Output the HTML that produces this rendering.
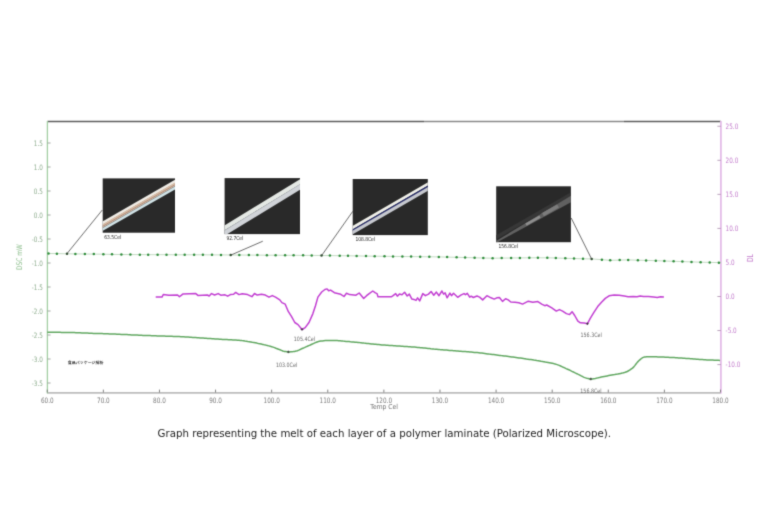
<!DOCTYPE html><html><head><meta charset="utf-8"><title>DSC chart</title><style>html,body{margin:0;padding:0;background:#fff;overflow:hidden;width:768px;height:512px;}svg{display:block;}</style></head><body>
<svg width="768" height="512" viewBox="0 0 768 512">
<defs><filter id="bl" x="0" y="0" width="768" height="512" filterUnits="userSpaceOnUse" color-interpolation-filters="sRGB"><feConvolveMatrix order="3" kernelMatrix="0.0192 0.1001 0.0192 0.1001 0.5228 0.1001 0.0192 0.1001 0.0192" divisor="1" edgeMode="duplicate"/></filter></defs>
<g filter="url(#bl)">
<rect width="768" height="512" fill="#fff"/>
<line x1="47.4" y1="121.5" x2="424" y2="121.5" stroke="#5e5e5e" stroke-width="1.3"/>
<line x1="424" y1="121.5" x2="624" y2="121.5" stroke="#8a8a8a" stroke-width="1.3"/>
<line x1="624" y1="121.5" x2="720.9" y2="121.5" stroke="#5e5e5e" stroke-width="1.3"/>
<line x1="47.25" y1="392.8" x2="720.9" y2="392.8" stroke="#bdbdbd" stroke-width="1.8"/>
<line x1="47.4" y1="121" x2="47.4" y2="393.5" stroke="#a3cfa3" stroke-width="1.3"/>
<line x1="720.9" y1="121" x2="720.9" y2="393.5" stroke="#e4bce8" stroke-width="1.8"/>
<line x1="47.4" y1="143.00" x2="50.6" y2="143.00" stroke="#9a9f9a" stroke-width="0.9"/>
<text transform="translate(42.9,145.50) scale(1,1.3)" text-anchor="end" font-family="'DejaVu Sans', 'Liberation Sans', sans-serif" font-size="5.7" fill="#8fae8f">1.5</text>
<line x1="47.4" y1="167.00" x2="50.6" y2="167.00" stroke="#9a9f9a" stroke-width="0.9"/>
<text transform="translate(42.9,169.50) scale(1,1.3)" text-anchor="end" font-family="'DejaVu Sans', 'Liberation Sans', sans-serif" font-size="5.7" fill="#8fae8f">1.0</text>
<line x1="47.4" y1="191.00" x2="50.6" y2="191.00" stroke="#9a9f9a" stroke-width="0.9"/>
<text transform="translate(42.9,193.50) scale(1,1.3)" text-anchor="end" font-family="'DejaVu Sans', 'Liberation Sans', sans-serif" font-size="5.7" fill="#8fae8f">0.5</text>
<line x1="47.4" y1="215.00" x2="50.6" y2="215.00" stroke="#9a9f9a" stroke-width="0.9"/>
<text transform="translate(42.9,217.50) scale(1,1.3)" text-anchor="end" font-family="'DejaVu Sans', 'Liberation Sans', sans-serif" font-size="5.7" fill="#8fae8f">0.0</text>
<line x1="47.4" y1="239.00" x2="50.6" y2="239.00" stroke="#9a9f9a" stroke-width="0.9"/>
<text transform="translate(42.9,241.50) scale(1,1.3)" text-anchor="end" font-family="'DejaVu Sans', 'Liberation Sans', sans-serif" font-size="5.7" fill="#8fae8f">-0.5</text>
<line x1="47.4" y1="263.00" x2="50.6" y2="263.00" stroke="#9a9f9a" stroke-width="0.9"/>
<text transform="translate(42.9,265.50) scale(1,1.3)" text-anchor="end" font-family="'DejaVu Sans', 'Liberation Sans', sans-serif" font-size="5.7" fill="#8fae8f">-1.0</text>
<line x1="47.4" y1="287.00" x2="50.6" y2="287.00" stroke="#9a9f9a" stroke-width="0.9"/>
<text transform="translate(42.9,289.50) scale(1,1.3)" text-anchor="end" font-family="'DejaVu Sans', 'Liberation Sans', sans-serif" font-size="5.7" fill="#8fae8f">-1.5</text>
<line x1="47.4" y1="311.00" x2="50.6" y2="311.00" stroke="#9a9f9a" stroke-width="0.9"/>
<text transform="translate(42.9,313.50) scale(1,1.3)" text-anchor="end" font-family="'DejaVu Sans', 'Liberation Sans', sans-serif" font-size="5.7" fill="#8fae8f">-2.0</text>
<line x1="47.4" y1="335.00" x2="50.6" y2="335.00" stroke="#9a9f9a" stroke-width="0.9"/>
<text transform="translate(42.9,337.50) scale(1,1.3)" text-anchor="end" font-family="'DejaVu Sans', 'Liberation Sans', sans-serif" font-size="5.7" fill="#8fae8f">-2.5</text>
<line x1="47.4" y1="359.00" x2="50.6" y2="359.00" stroke="#9a9f9a" stroke-width="0.9"/>
<text transform="translate(42.9,361.50) scale(1,1.3)" text-anchor="end" font-family="'DejaVu Sans', 'Liberation Sans', sans-serif" font-size="5.7" fill="#8fae8f">-3.0</text>
<line x1="47.4" y1="383.00" x2="50.6" y2="383.00" stroke="#9a9f9a" stroke-width="0.9"/>
<text transform="translate(42.9,385.50) scale(1,1.3)" text-anchor="end" font-family="'DejaVu Sans', 'Liberation Sans', sans-serif" font-size="5.7" fill="#8fae8f">-3.5</text>
<line x1="717.4" y1="126.25" x2="720.9" y2="126.25" stroke="#b39ab6" stroke-width="0.9"/>
<text transform="translate(725.6,128.75) scale(1,1.3)" font-family="'DejaVu Sans', 'Liberation Sans', sans-serif" font-size="5.7" fill="#c37ccc">25.0</text>
<line x1="717.4" y1="160.30" x2="720.9" y2="160.30" stroke="#b39ab6" stroke-width="0.9"/>
<text transform="translate(725.6,162.80) scale(1,1.3)" font-family="'DejaVu Sans', 'Liberation Sans', sans-serif" font-size="5.7" fill="#c37ccc">20.0</text>
<line x1="717.4" y1="194.35" x2="720.9" y2="194.35" stroke="#b39ab6" stroke-width="0.9"/>
<text transform="translate(725.6,196.85) scale(1,1.3)" font-family="'DejaVu Sans', 'Liberation Sans', sans-serif" font-size="5.7" fill="#c37ccc">15.0</text>
<line x1="717.4" y1="228.40" x2="720.9" y2="228.40" stroke="#b39ab6" stroke-width="0.9"/>
<text transform="translate(725.6,230.90) scale(1,1.3)" font-family="'DejaVu Sans', 'Liberation Sans', sans-serif" font-size="5.7" fill="#c37ccc">10.0</text>
<line x1="717.4" y1="262.45" x2="720.9" y2="262.45" stroke="#b39ab6" stroke-width="0.9"/>
<text transform="translate(725.6,264.95) scale(1,1.3)" font-family="'DejaVu Sans', 'Liberation Sans', sans-serif" font-size="5.7" fill="#c37ccc">5.0</text>
<line x1="717.4" y1="296.50" x2="720.9" y2="296.50" stroke="#b39ab6" stroke-width="0.9"/>
<text transform="translate(725.6,299.00) scale(1,1.3)" font-family="'DejaVu Sans', 'Liberation Sans', sans-serif" font-size="5.7" fill="#c37ccc">0.0</text>
<line x1="717.4" y1="330.55" x2="720.9" y2="330.55" stroke="#b39ab6" stroke-width="0.9"/>
<text transform="translate(725.6,333.05) scale(1,1.3)" font-family="'DejaVu Sans', 'Liberation Sans', sans-serif" font-size="5.7" fill="#c37ccc">-5.0</text>
<line x1="717.4" y1="364.60" x2="720.9" y2="364.60" stroke="#b39ab6" stroke-width="0.9"/>
<text transform="translate(725.6,367.10) scale(1,1.3)" font-family="'DejaVu Sans', 'Liberation Sans', sans-serif" font-size="5.7" fill="#c37ccc">-10.0</text>
<line x1="47.25" y1="389.6" x2="47.25" y2="392.5" stroke="#777" stroke-width="0.9"/>
<text transform="translate(47.25,402.7) scale(1,1.3)" text-anchor="middle" font-family="'DejaVu Sans', 'Liberation Sans', sans-serif" font-size="5.7" fill="#7a7a7a">60.0</text>
<line x1="103.35" y1="389.6" x2="103.35" y2="392.5" stroke="#777" stroke-width="0.9"/>
<text transform="translate(103.35,402.7) scale(1,1.3)" text-anchor="middle" font-family="'DejaVu Sans', 'Liberation Sans', sans-serif" font-size="5.7" fill="#7a7a7a">70.0</text>
<line x1="159.46" y1="389.6" x2="159.46" y2="392.5" stroke="#777" stroke-width="0.9"/>
<text transform="translate(159.46,402.7) scale(1,1.3)" text-anchor="middle" font-family="'DejaVu Sans', 'Liberation Sans', sans-serif" font-size="5.7" fill="#7a7a7a">80.0</text>
<line x1="215.56" y1="389.6" x2="215.56" y2="392.5" stroke="#777" stroke-width="0.9"/>
<text transform="translate(215.56,402.7) scale(1,1.3)" text-anchor="middle" font-family="'DejaVu Sans', 'Liberation Sans', sans-serif" font-size="5.7" fill="#7a7a7a">90.0</text>
<line x1="271.67" y1="389.6" x2="271.67" y2="392.5" stroke="#777" stroke-width="0.9"/>
<text transform="translate(271.67,402.7) scale(1,1.3)" text-anchor="middle" font-family="'DejaVu Sans', 'Liberation Sans', sans-serif" font-size="5.7" fill="#7a7a7a">100.0</text>
<line x1="327.77" y1="389.6" x2="327.77" y2="392.5" stroke="#777" stroke-width="0.9"/>
<text transform="translate(327.77,402.7) scale(1,1.3)" text-anchor="middle" font-family="'DejaVu Sans', 'Liberation Sans', sans-serif" font-size="5.7" fill="#7a7a7a">110.0</text>
<line x1="383.87" y1="389.6" x2="383.87" y2="392.5" stroke="#777" stroke-width="0.9"/>
<text transform="translate(383.87,402.7) scale(1,1.3)" text-anchor="middle" font-family="'DejaVu Sans', 'Liberation Sans', sans-serif" font-size="5.7" fill="#7a7a7a">120.0</text>
<line x1="439.98" y1="389.6" x2="439.98" y2="392.5" stroke="#777" stroke-width="0.9"/>
<text transform="translate(439.98,402.7) scale(1,1.3)" text-anchor="middle" font-family="'DejaVu Sans', 'Liberation Sans', sans-serif" font-size="5.7" fill="#7a7a7a">130.0</text>
<line x1="496.08" y1="389.6" x2="496.08" y2="392.5" stroke="#777" stroke-width="0.9"/>
<text transform="translate(496.08,402.7) scale(1,1.3)" text-anchor="middle" font-family="'DejaVu Sans', 'Liberation Sans', sans-serif" font-size="5.7" fill="#7a7a7a">140.0</text>
<line x1="552.19" y1="389.6" x2="552.19" y2="392.5" stroke="#777" stroke-width="0.9"/>
<text transform="translate(552.19,402.7) scale(1,1.3)" text-anchor="middle" font-family="'DejaVu Sans', 'Liberation Sans', sans-serif" font-size="5.7" fill="#7a7a7a">150.0</text>
<line x1="608.29" y1="389.6" x2="608.29" y2="392.5" stroke="#777" stroke-width="0.9"/>
<text transform="translate(608.29,402.7) scale(1,1.3)" text-anchor="middle" font-family="'DejaVu Sans', 'Liberation Sans', sans-serif" font-size="5.7" fill="#7a7a7a">160.0</text>
<line x1="664.39" y1="389.6" x2="664.39" y2="392.5" stroke="#777" stroke-width="0.9"/>
<text transform="translate(664.39,402.7) scale(1,1.3)" text-anchor="middle" font-family="'DejaVu Sans', 'Liberation Sans', sans-serif" font-size="5.7" fill="#7a7a7a">170.0</text>
<line x1="720.50" y1="389.6" x2="720.50" y2="392.5" stroke="#777" stroke-width="0.9"/>
<text transform="translate(720.50,402.7) scale(1,1.3)" text-anchor="middle" font-family="'DejaVu Sans', 'Liberation Sans', sans-serif" font-size="5.7" fill="#7a7a7a">180.0</text>
<text transform="translate(384.1,409.0) scale(1.06,1.2)" text-anchor="middle" font-family="'DejaVu Sans', 'Liberation Sans', sans-serif" font-size="5.7" fill="#6e6e6e">Temp Cel</text>
<text transform="translate(21.6,257.2) rotate(-90) scale(1,1.3)" text-anchor="middle" font-family="'DejaVu Sans', 'Liberation Sans', sans-serif" font-size="5.9" fill="#8fbf8f">DSC mW</text>
<text transform="translate(752.6,258.1) rotate(-90) scale(1,1.4)" text-anchor="middle" font-family="'DejaVu Sans', 'Liberation Sans', sans-serif" font-size="6" fill="#c37ccc">DL</text>
<text x="67.8" y="363.9" font-family="'Liberation Sans', 'Noto Sans CJK JP', sans-serif" font-size="3.98" font-weight="bold" fill="#444">食品パッケージ解析</text>
<polyline points="47.4,253.5 48.5,253.5 56.9,253.6 67.0,253.8 75.4,253.9 84.9,254.0 93.8,254.1 103.4,254.2 112.0,254.4 121.4,254.5 130.4,254.6 139.8,254.6 148.2,254.7 157.6,254.7 166.5,254.7 175.8,254.8 184.7,254.8 194.1,254.8 202.9,254.8 212.0,254.9 221.0,254.9 230.7,255.0 239.3,255.0 248.9,255.1 257.4,255.1 266.9,255.2 275.6,255.2 285.1,255.3 293.6,255.3 303.1,255.4 311.7,255.4 321.5,255.5 329.9,255.6 339.7,255.7 348.0,255.8 356.6,255.9 366.0,256.1 374.7,256.2 384.5,256.3 393.0,256.4 402.4,256.5 411.1,256.6 420.2,256.7 429.3,256.8 438.8,256.9 447.1,257.1 456.6,257.3 465.1,257.5 474.6,257.8 483.3,258.0 492.6,258.2 501.7,258.1 511.1,258.0 519.9,257.9 529.3,257.8 537.9,257.8 547.3,257.8 555.8,258.0 565.3,258.3 574.0,258.5 583.0,258.8 591.7,258.9 601.9,259.7 610.2,260.3 619.7,260.1 628.2,259.9 637.9,260.2 646.1,260.4 655.8,260.7 664.4,261.0 673.6,261.3 682.4,261.6 691.5,261.9 700.6,262.2 709.7,262.4 718.9,262.6 720.9,262.7" fill="none" stroke="#c4dcc4" stroke-width="1"/>
<circle cx="48.5" cy="253.52" r="1.25" fill="#2e8c3a"/>
<circle cx="56.9" cy="253.63" r="1.25" fill="#2e8c3a"/>
<circle cx="67" cy="253.77" r="1.25" fill="#2f4f2f"/>
<circle cx="75.4" cy="253.88" r="1.25" fill="#2e8c3a"/>
<circle cx="84.9" cy="254.00" r="1.25" fill="#2e8c3a"/>
<circle cx="93.8" cy="254.12" r="1.25" fill="#2e8c3a"/>
<circle cx="103.4" cy="254.25" r="1.25" fill="#2e8c3a"/>
<circle cx="112" cy="254.36" r="1.25" fill="#2e8c3a"/>
<circle cx="121.4" cy="254.49" r="1.25" fill="#2e8c3a"/>
<circle cx="130.4" cy="254.60" r="1.25" fill="#2e8c3a"/>
<circle cx="139.8" cy="254.63" r="1.25" fill="#2e8c3a"/>
<circle cx="148.2" cy="254.66" r="1.25" fill="#2e8c3a"/>
<circle cx="157.6" cy="254.69" r="1.25" fill="#2e8c3a"/>
<circle cx="166.5" cy="254.72" r="1.25" fill="#2e8c3a"/>
<circle cx="175.8" cy="254.75" r="1.25" fill="#2e8c3a"/>
<circle cx="184.7" cy="254.78" r="1.25" fill="#2e8c3a"/>
<circle cx="194.1" cy="254.81" r="1.25" fill="#2e8c3a"/>
<circle cx="202.9" cy="254.84" r="1.25" fill="#2e8c3a"/>
<circle cx="212" cy="254.87" r="1.25" fill="#2e8c3a"/>
<circle cx="221" cy="254.91" r="1.25" fill="#2e8c3a"/>
<circle cx="230.7" cy="254.96" r="1.25" fill="#2f4f2f"/>
<circle cx="239.3" cy="255.00" r="1.25" fill="#2e8c3a"/>
<circle cx="248.9" cy="255.06" r="1.25" fill="#2e8c3a"/>
<circle cx="257.4" cy="255.10" r="1.25" fill="#2e8c3a"/>
<circle cx="266.9" cy="255.15" r="1.25" fill="#2e8c3a"/>
<circle cx="275.6" cy="255.20" r="1.25" fill="#2e8c3a"/>
<circle cx="285.1" cy="255.25" r="1.25" fill="#2e8c3a"/>
<circle cx="293.6" cy="255.30" r="1.25" fill="#2e8c3a"/>
<circle cx="303.1" cy="255.35" r="1.25" fill="#2e8c3a"/>
<circle cx="311.7" cy="255.40" r="1.25" fill="#2e8c3a"/>
<circle cx="321.5" cy="255.52" r="1.25" fill="#2f4f2f"/>
<circle cx="329.9" cy="255.62" r="1.25" fill="#2e8c3a"/>
<circle cx="339.7" cy="255.74" r="1.25" fill="#2e8c3a"/>
<circle cx="348" cy="255.84" r="1.25" fill="#2e8c3a"/>
<circle cx="356.6" cy="255.95" r="1.25" fill="#2e8c3a"/>
<circle cx="366" cy="256.06" r="1.25" fill="#2e8c3a"/>
<circle cx="374.7" cy="256.17" r="1.25" fill="#2e8c3a"/>
<circle cx="384.5" cy="256.29" r="1.25" fill="#2e8c3a"/>
<circle cx="393" cy="256.39" r="1.25" fill="#2e8c3a"/>
<circle cx="402.4" cy="256.50" r="1.25" fill="#2e8c3a"/>
<circle cx="411.1" cy="256.60" r="1.25" fill="#2e8c3a"/>
<circle cx="420.2" cy="256.69" r="1.25" fill="#2e8c3a"/>
<circle cx="429.3" cy="256.79" r="1.25" fill="#2e8c3a"/>
<circle cx="438.8" cy="256.89" r="1.25" fill="#2e8c3a"/>
<circle cx="447.1" cy="257.08" r="1.25" fill="#2e8c3a"/>
<circle cx="456.6" cy="257.31" r="1.25" fill="#2e8c3a"/>
<circle cx="465.1" cy="257.53" r="1.25" fill="#2e8c3a"/>
<circle cx="474.6" cy="257.76" r="1.25" fill="#2e8c3a"/>
<circle cx="483.3" cy="257.98" r="1.25" fill="#2e8c3a"/>
<circle cx="492.6" cy="258.19" r="1.25" fill="#2e8c3a"/>
<circle cx="501.7" cy="258.10" r="1.25" fill="#2e8c3a"/>
<circle cx="511.1" cy="258.00" r="1.25" fill="#2e8c3a"/>
<circle cx="519.9" cy="257.91" r="1.25" fill="#2e8c3a"/>
<circle cx="529.3" cy="257.81" r="1.25" fill="#2e8c3a"/>
<circle cx="537.9" cy="257.80" r="1.25" fill="#2e8c3a"/>
<circle cx="547.3" cy="257.80" r="1.25" fill="#2e8c3a"/>
<circle cx="555.8" cy="258.02" r="1.25" fill="#2e8c3a"/>
<circle cx="565.3" cy="258.29" r="1.25" fill="#2e8c3a"/>
<circle cx="574" cy="258.54" r="1.25" fill="#2e8c3a"/>
<circle cx="583" cy="258.80" r="1.25" fill="#2e8c3a"/>
<circle cx="591.7" cy="258.90" r="1.25" fill="#2f4f2f"/>
<circle cx="601.9" cy="259.67" r="1.25" fill="#2e8c3a"/>
<circle cx="610.2" cy="260.30" r="1.25" fill="#2e8c3a"/>
<circle cx="619.7" cy="260.08" r="1.25" fill="#2e8c3a"/>
<circle cx="628.2" cy="259.91" r="1.25" fill="#2e8c3a"/>
<circle cx="637.9" cy="260.17" r="1.25" fill="#2e8c3a"/>
<circle cx="646.1" cy="260.40" r="1.25" fill="#2e8c3a"/>
<circle cx="655.8" cy="260.71" r="1.25" fill="#2e8c3a"/>
<circle cx="664.4" cy="260.99" r="1.25" fill="#2e8c3a"/>
<circle cx="673.6" cy="261.29" r="1.25" fill="#2e8c3a"/>
<circle cx="682.4" cy="261.59" r="1.25" fill="#2e8c3a"/>
<circle cx="691.5" cy="261.91" r="1.25" fill="#2e8c3a"/>
<circle cx="700.6" cy="262.21" r="1.25" fill="#2e8c3a"/>
<circle cx="709.7" cy="262.43" r="1.25" fill="#2e8c3a"/>
<circle cx="718.9" cy="262.65" r="1.25" fill="#2e8c3a"/>
<polyline points="47.3,332.2 48.7,332.2 50.1,332.2 51.6,332.3 53.0,332.3 54.4,332.3 55.8,332.3 57.2,332.3 58.6,332.3 60.1,332.3 61.5,332.4 62.9,332.4 64.3,332.4 65.7,332.4 67.2,332.4 68.6,332.5 70.0,332.5 71.5,332.5 72.9,332.6 74.4,332.6 75.8,332.7 77.3,332.7 78.8,332.8 80.2,332.8 81.7,332.9 83.1,332.9 84.6,333.0 86.1,333.1 87.5,333.1 89.0,333.2 90.4,333.2 91.9,333.3 93.4,333.4 94.8,333.4 96.3,333.4 97.8,333.5 99.2,333.5 100.7,333.6 102.1,333.6 103.6,333.7 105.1,333.7 106.5,333.8 108.0,333.8 109.5,333.9 110.9,333.9 112.4,334.0 113.8,334.0 115.3,334.1 116.8,334.2 118.2,334.2 119.7,334.3 121.2,334.4 122.6,334.4 124.1,334.5 125.6,334.6 127.0,334.6 128.5,334.7 130.0,334.8 131.4,334.9 132.9,334.9 134.4,335.0 135.8,335.1 137.3,335.1 138.8,335.2 140.2,335.3 141.6,335.3 143.0,335.4 144.4,335.4 145.8,335.5 147.2,335.5 148.7,335.6 150.1,335.6 151.5,335.7 152.9,335.7 154.3,335.8 155.8,335.8 157.2,335.9 158.6,335.9 160.0,335.9 161.5,336.0 163.0,336.1 164.5,336.1 165.9,336.2 167.4,336.2 168.9,336.2 170.4,336.3 171.9,336.3 173.4,336.4 174.9,336.5 176.3,336.5 177.8,336.6 179.3,336.6 180.8,336.7 182.3,336.8 183.8,336.8 185.3,336.9 186.8,337.0 188.3,337.1 189.8,337.2 191.2,337.3 192.7,337.4 194.2,337.5 195.7,337.6 197.2,337.7 198.7,337.8 200.2,337.9 201.7,338.0 203.2,338.1 204.7,338.2 206.2,338.3 207.6,338.4 209.1,338.5 210.6,338.6 212.1,338.7 213.6,338.8 215.1,338.9 216.6,339.0 218.0,339.1 219.5,339.2 221.0,339.3 222.5,339.4 224.0,339.5 225.5,339.6 227.0,339.6 228.5,339.7 230.0,339.8 231.4,339.8 232.9,339.9 234.4,340.0 235.9,340.1 237.4,340.2 238.9,340.3 240.4,340.4 241.9,340.6 243.4,340.7 244.9,341.0 246.3,341.2 247.8,341.5 249.3,341.7 250.8,342.0 252.3,342.3 253.8,342.5 255.3,342.8 256.8,343.1 258.3,343.5 259.8,343.8 261.2,344.1 262.7,344.4 264.2,344.8 265.7,345.1 267.2,345.5 268.7,345.9 270.2,346.3 271.7,346.7 273.1,347.1 274.5,347.6 275.9,348.2 277.2,348.7 278.6,349.3 280.0,349.8 281.4,350.4 282.8,351.0 284.2,351.4 285.6,351.6 286.9,351.8 288.3,351.9 289.6,351.9 290.8,351.8 292.1,351.7 293.3,351.6 294.6,351.4 296.0,351.1 297.4,350.7 298.8,350.1 300.1,349.5 301.5,348.8 302.9,348.2 304.4,347.6 305.9,346.9 307.3,346.3 308.8,345.6 310.3,345.0 311.8,344.3 313.3,343.6 314.8,342.9 316.3,342.3 317.8,341.7 319.3,341.3 320.8,341.0 322.3,340.9 323.8,340.7 325.3,340.6 326.8,340.5 328.3,340.5 329.8,340.4 331.2,340.4 332.7,340.4 334.2,340.5 335.7,340.5 337.2,340.6 338.7,340.7 340.1,340.8 341.6,340.9 343.1,341.1 344.6,341.2 346.1,341.4 347.6,341.5 349.0,341.6 350.5,341.8 352.0,341.9 353.5,342.0 355.0,342.2 356.5,342.3 358.0,342.4 359.5,342.6 360.9,342.7 362.4,342.9 363.9,343.1 365.4,343.2 366.9,343.4 368.4,343.5 369.9,343.7 371.4,343.9 372.9,344.0 374.4,344.2 375.8,344.3 377.3,344.5 378.8,344.6 380.3,344.7 381.8,344.9 383.3,345.0 384.8,345.1 386.3,345.2 387.8,345.3 389.3,345.4 390.8,345.5 392.2,345.6 393.7,345.7 395.2,345.8 396.7,345.9 398.2,346.0 399.7,346.1 401.2,346.2 402.7,346.3 404.2,346.4 405.7,346.5 407.1,346.6 408.6,346.7 410.1,346.8 411.6,346.9 413.1,347.0 414.6,347.1 416.1,347.2 417.6,347.4 419.1,347.5 420.5,347.7 422.0,347.8 423.5,348.0 425.0,348.1 426.5,348.3 428.0,348.5 429.5,348.6 430.9,348.8 432.4,348.9 433.9,349.1 435.4,349.2 436.8,349.3 438.2,349.4 439.6,349.6 441.0,349.7 442.4,349.8 443.8,349.9 445.2,350.0 446.6,350.1 448.0,350.2 449.4,350.4 450.8,350.5 452.2,350.6 453.6,350.7 455.0,350.8 456.5,350.9 458.0,351.0 459.5,351.2 460.9,351.3 462.4,351.4 463.9,351.5 465.4,351.6 466.9,351.7 468.4,351.8 469.9,352.0 471.3,352.1 472.8,352.2 474.3,352.4 475.8,352.5 477.3,352.6 478.8,352.8 480.3,353.0 481.8,353.1 483.3,353.3 484.8,353.5 486.2,353.7 487.7,353.9 489.2,354.1 490.7,354.2 492.2,354.4 493.7,354.6 495.2,354.8 496.7,355.0 498.2,355.2 499.7,355.4 501.2,355.6 502.6,355.7 504.1,355.9 505.6,356.1 507.1,356.3 508.6,356.5 510.1,356.7 511.6,356.9 513.0,357.1 514.5,357.3 516.0,357.5 517.5,357.7 519.0,357.9 520.5,358.1 522.0,358.3 523.4,358.5 524.9,358.7 526.4,359.0 527.9,359.2 529.4,359.4 530.9,359.6 532.4,359.8 533.8,360.1 535.3,360.3 536.8,360.6 538.3,360.8 539.7,361.0 541.1,361.3 542.5,361.5 543.9,361.7 545.3,362.0 546.6,362.2 548.0,362.4 549.4,362.7 550.8,363.0 552.2,363.3 553.6,363.6 555.0,364.0 556.4,364.4 557.8,364.9 559.2,365.4 560.6,366.0 561.9,366.6 563.3,367.3 564.7,367.9 566.1,368.6 567.5,369.2 568.9,369.8 570.2,370.4 571.5,371.1 572.9,371.8 574.2,372.4 575.6,373.1 576.9,373.7 578.3,374.4 579.8,375.1 581.2,375.9 582.7,376.7 584.1,377.4 585.6,377.9 586.9,378.3 588.2,378.6 589.5,378.9 590.8,379.0 592.3,378.9 593.8,378.7 595.3,378.5 596.8,378.1 598.3,377.8 599.8,377.4 601.2,377.1 602.7,376.8 604.2,376.5 605.7,376.2 607.2,375.9 608.7,375.6 610.2,375.3 611.7,375.0 613.2,374.7 614.7,374.5 616.2,374.2 617.7,374.0 619.2,373.7 620.7,373.4 622.2,373.1 623.7,372.7 625.2,372.3 626.7,371.8 628.1,371.0 629.6,370.2 631.0,369.2 632.5,368.1 633.8,366.9 635.0,365.4 636.2,363.7 637.5,362.1 638.8,360.8 640.1,359.6 641.4,358.5 642.7,357.6 644.0,357.1 645.3,356.9 646.6,356.8 647.9,356.7 649.2,356.7 650.7,356.7 652.1,356.7 653.6,356.8 655.0,356.8 656.5,356.8 657.9,356.9 659.4,356.9 660.8,357.0 662.3,357.0 663.8,357.1 665.2,357.2 666.7,357.2 668.2,357.3 669.7,357.4 671.2,357.5 672.7,357.5 674.2,357.6 675.7,357.7 677.2,357.8 678.6,357.9 680.1,358.0 681.6,358.1 683.1,358.2 684.6,358.3 686.1,358.4 687.6,358.5 689.1,358.6 690.5,358.7 692.0,358.8 693.5,359.0 695.0,359.1 696.5,359.2 698.0,359.3 699.5,359.4 700.9,359.5 702.4,359.6 703.9,359.7 705.4,359.8 706.9,359.9 708.3,359.9 709.8,360.0 711.2,360.1 712.7,360.1 714.2,360.2 715.6,360.2 717.1,360.3 718.5,360.3 720.0,360.4" fill="none" stroke="#62a862" stroke-width="1.5" stroke-linejoin="round"/>
<polyline points="155.7,297.1 162.0,297.1 163.3,294.5 168.8,295.2 177.6,295.0 179.4,296.7 181.2,295.4 183.1,293.9 195.8,293.6 197.9,295.4 207.3,295.0 209.2,296.0 211.5,293.6 214.6,295.0 218.2,293.6 220.8,295.2 225.0,294.8 227.7,296.2 230.4,294.6 233.6,294.3 235.7,292.4 239.0,294.6 242.2,293.7 247.6,294.6 251.9,296.7 254.5,293.5 257.2,295.1 261.5,294.3 265.3,295.1 269.0,297.2 272.3,295.6 275.5,297.2 279.8,299.9 281.9,302.6 285.2,304.2 288.4,311.7 291.6,316.6 294.8,322.5 298.0,324.6 302.0,329.5 305.2,327.6 309.0,322.5 312.9,313.6 315.4,306.0 317.9,297.1 321.7,292.0 324.9,289.5 327.1,288.9 328.7,290.8 330.6,290.1 334.4,292.7 340.8,294.3 344.0,296.5 346.5,293.3 349.7,294.6 356.0,295.2 359.2,293.0 363.7,298.4 366.6,295.7 369.2,293.6 372.8,291.0 375.4,292.9 377.0,293.6 378.0,296.7 391.6,296.7 393.1,295.7 395.7,293.6 397.3,296.2 399.4,294.1 402.0,294.7 404.6,292.3 407.2,296.0 409.3,294.1 411.9,299.1 414.0,299.4 416.0,300.4 417.6,297.8 419.7,300.9 422.8,293.6 425.4,295.7 428.5,294.1 431.1,291.5 433.8,295.2 436.4,292.1 439.0,295.7 441.9,291.0 443.6,294.1 445.2,292.9 447.1,297.8 449.9,293.1 451.5,295.7 453.5,293.3 457.7,297.3 460.8,295.2 464.0,293.6 465.5,294.7 467.3,293.3 469.7,297.1 471.2,296.2 473.3,297.5 477.0,296.0 479.6,297.1 482.7,299.9 486.9,295.7 491.0,297.8 494.2,299.1 496.8,297.8 499.4,297.5 502.5,301.4 505.6,298.8 508.2,299.9 510.8,302.0 515.0,302.2 518.8,302.8 522.6,304.1 528.3,301.2 532.8,302.2 537.9,301.6 541.7,304.1 544.8,305.7 546.7,305.0 551.8,307.9 556.3,311.1 559.4,309.6 562.6,311.1 566.4,313.6 569.6,314.6 572.1,311.7 574.7,315.5 577.9,321.2 580.4,322.8 584.2,323.1 587.4,323.8 590.1,318.7 593.9,312.3 597.7,306.6 601.5,302.2 605.3,298.4 609.1,295.8 614.2,294.9 619.3,295.2 624.3,296.1 628.1,296.7 633.2,296.5 637.0,296.8 640.2,296.1 643.4,296.6 648.5,296.5 653.5,297.1 657.3,297.5 660.5,296.8 663.9,297.1" fill="none" stroke="#c23fd2" stroke-width="1.5" stroke-linejoin="round"/>
<path d="M300.7,329.4h2.6M302,328.09999999999997v2.6" stroke="#333" stroke-width="0.8"/>
<path d="M586.1,323.7h2.6M587.4,322.4v2.6" stroke="#333" stroke-width="0.8"/>
<path d="M287.0,351.9h2.6M288.3,350.59999999999997v2.6" stroke="#333" stroke-width="0.8"/>
<path d="M589.5,379h2.6M590.8,377.7v2.6" stroke="#333" stroke-width="0.8"/>
<text transform="translate(293.8,341.3) scale(1,1.25)" text-anchor="start" font-family="'DejaVu Sans', 'Liberation Sans', sans-serif" font-size="4.8" fill="#6a6a6a">105.4Cel</text>
<text transform="translate(275.9,366.6) scale(1,1.25)" text-anchor="start" font-family="'DejaVu Sans', 'Liberation Sans', sans-serif" font-size="4.8" fill="#6a6a6a">103.0Cel</text>
<text transform="translate(580.5,337.1) scale(1,1.25)" text-anchor="start" font-family="'DejaVu Sans', 'Liberation Sans', sans-serif" font-size="4.8" fill="#6a6a6a">156.3Cel</text>
<text transform="translate(580.3,392.8) scale(1,1.25)" text-anchor="start" font-family="'DejaVu Sans', 'Liberation Sans', sans-serif" font-size="4.8" fill="#6a6a6a">156.8Cel</text>
<g stroke="#3c3c3c" stroke-width="0.75" fill="none">
<line x1="67" y1="253.6" x2="102.3" y2="210"/>
<line x1="230.8" y1="255.1" x2="262.8" y2="241.2"/>
<line x1="321.6" y1="255.6" x2="352.8" y2="211.3"/>
<line x1="571.2" y1="218" x2="591.6" y2="259"/>
</g>
<clipPath id="c1"><rect x="102.7" y="178.4" width="72.3" height="54.3"/></clipPath>
<rect x="102.7" y="178.4" width="72.3" height="54.3" fill="#292929"/>
<g clip-path="url(#c1)">
<line x1="95" y1="227.44" x2="185" y2="175.69" stroke="#efece6" stroke-width="2.8"/>
<line x1="95" y1="230.34" x2="185" y2="178.59" stroke="#d8bfa9" stroke-width="3.2"/>
<line x1="95" y1="230.74" x2="185" y2="178.99" stroke="#a88070" stroke-width="0.8"/>
<line x1="95" y1="232.44" x2="185" y2="180.69" stroke="#8a9498" stroke-width="0.7"/>
<line x1="95" y1="233.94" x2="185" y2="182.19" stroke="#d0e2e6" stroke-width="2.5"/>
</g>
<text transform="translate(104.3,238.6) scale(1,1.25)" text-anchor="start" font-family="'DejaVu Sans', 'Liberation Sans', sans-serif" font-size="4.4" fill="#222">63.5Cel</text>
<clipPath id="c2"><rect x="224.6" y="178.1" width="75.4" height="56.0"/></clipPath>
<rect x="224.6" y="178.1" width="75.4" height="56.0" fill="#292929"/>
<g clip-path="url(#c2)">
<line x1="215" y1="233.72" x2="310" y2="175.77" stroke="#e4e8e4" stroke-width="4.4"/>
<line x1="215" y1="236.42" x2="310" y2="178.47" stroke="#a3a8ac" stroke-width="1.0"/>
<line x1="215" y1="239.02" x2="310" y2="181.07" stroke="#d0d3d8" stroke-width="4.4"/>
</g>
<text transform="translate(226.4,239.7) scale(1,1.25)" text-anchor="start" font-family="'DejaVu Sans', 'Liberation Sans', sans-serif" font-size="4.4" fill="#222">92.7Cel</text>
<clipPath id="c3"><rect x="352.7" y="179.0" width="75.1" height="56.1"/></clipPath>
<rect x="352.7" y="179.0" width="75.1" height="56.1" fill="#292929"/>
<g clip-path="url(#c3)">
<line x1="345" y1="232.02" x2="440" y2="176.92" stroke="#efefe8" stroke-width="2.9"/>
<line x1="345" y1="234.62" x2="440" y2="179.52" stroke="#23286a" stroke-width="1.5"/>
<line x1="345" y1="237.02" x2="440" y2="181.92" stroke="#c6c8cf" stroke-width="3.2"/>
</g>
<text transform="translate(355.4,241.4) scale(1,1.25)" text-anchor="start" font-family="'DejaVu Sans', 'Liberation Sans', sans-serif" font-size="4.4" fill="#222">108.8Cel</text>
<clipPath id="c4"><rect x="496.2" y="186.3" width="74.7" height="55.9"/></clipPath>
<rect x="496.2" y="186.3" width="74.7" height="55.9" fill="#292929"/>
<g clip-path="url(#c4)">
<line x1="488" y1="241.92" x2="580" y2="189.2" stroke="#373737" stroke-width="3.6"/>
<line x1="526" y1="224.74" x2="540" y2="216.72" stroke="#8a8a8a" stroke-width="2.6"/>
<line x1="542" y1="215.17" x2="558" y2="206.01" stroke="#7a7a7a" stroke-width="3.4"/>
</g>
<g clip-path="url(#c4)">
<polygon points="494.0,242.2 571.5,195.4 571.5,202.0 494.0,244.0" fill="#606060"/>
<line x1="526" y1="224.74" x2="540" y2="216.72" stroke="#8e8e8e" stroke-width="2.6"/>
<line x1="543" y1="214.60" x2="558" y2="206.01" stroke="#7c7c7c" stroke-width="3.6"/>
</g>
<text transform="translate(498.4,248.2) scale(1,1.25)" text-anchor="start" font-family="'DejaVu Sans', 'Liberation Sans', sans-serif" font-size="4.4" fill="#222">156.8Cel</text>
<text x="384.3" y="436.6" text-anchor="middle" font-family="'DejaVu Sans', 'Liberation Sans', sans-serif" font-size="10.22" fill="#1e1e1e">Graph representing the melt of each layer of a polymer laminate (Polarized Microscope).</text>
</g></svg>
</body></html>
